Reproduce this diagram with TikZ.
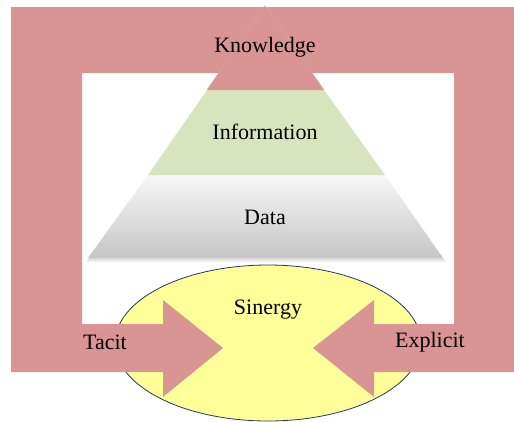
\documentclass[tikz,border=0pt]{standalone}
\usepackage{fontspec}
\setmainfont{Liberation Serif}
\definecolor{framered}{HTML}{D99594}
\definecolor{infogreen}{HTML}{D7E4BD}
\definecolor{synyellow}{HTML}{FFFF99}
\definecolor{ellblue}{HTML}{1F3864}
\tikzset{
  lbl/.style={font=\fontsize{22}{25}\selectfont, text=black, inner sep=0pt},
  framefill/.style={fill=framered, draw=none},
}
\begin{document}
\begin{tikzpicture}[x=1pt,y=-1pt]
\useasboundingbox (0,0) rectangle (514,421);
% synergy ellipse
\filldraw[fill=synyellow, draw=ellblue, line width=0.8pt] (268,343) ellipse [x radius=153, y radius=78];
% frame with arrows
\path[framefill] (11,7) -- (514,7) -- (514,372) -- (374,372) -- (374,397) -- (313,348)
  -- (374,300) -- (374,324) -- (454,324) -- (454,73) -- (82,73) -- (82,324)
  -- (163,324) -- (163,300) -- (223,348) -- (163,397) -- (163,372) -- (11,372) -- cycle;
% pyramid
\fill[black, opacity=0.06] (86,262) -- (446,262) -- (441,254) -- (91,254) -- cycle;
\fill[black, opacity=0.08] (88,260) -- (444,260) -- (441,255) -- (91,255) -- cycle;
\shade[top color=gray!6, bottom color=gray!45] (148,175) -- (385,175) -- (443,258) -- (88,258) -- cycle;
\fill[infogreen] (207,90) -- (324,90) -- (385,175) -- (148,175) -- cycle;
\draw[black!25, line width=1pt, opacity=0.6] (207,90) -- (265,6) -- (324,90);
\fill[framered] (265,6) -- (324,90) -- (207,90) -- cycle;
% texts
\node[lbl] (know) at (265,47) {Knowledge};
\node[lbl] (info) at (265,132) {Information};
\node[lbl] (data) at (265,217) {Data};
\node[lbl] (syn) at (268,310) {Sinergy};
\node[lbl] (tacit) at (105,342) {Tacit};
\node[lbl] (expl) at (430,342) {Explicit};
\end{tikzpicture}
\end{document}
